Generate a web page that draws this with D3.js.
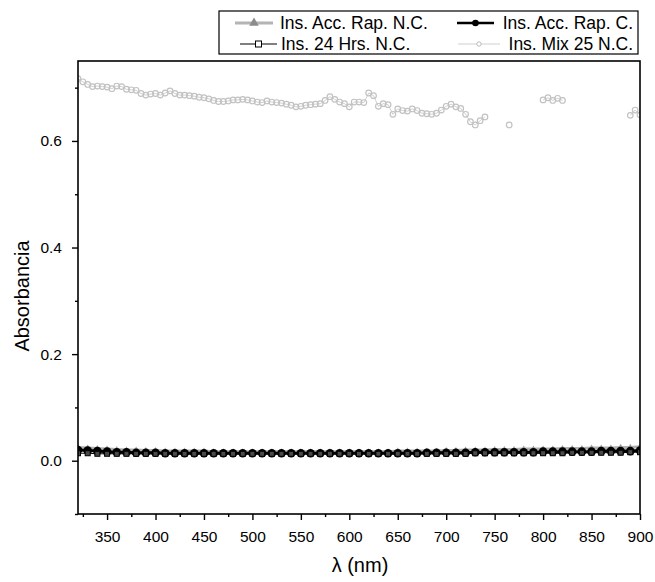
<!DOCTYPE html>
<html><head><meta charset="utf-8">
<script src="https://cdn.jsdelivr.net/npm/d3@7"></script>
<style>body{margin:0;background:#fff}svg{display:block;font-family:Arial,"Liberation Sans",sans-serif}</style>
</head><body><svg id="c" width="655" height="582"></svg>
<script>
// ---- data ----
const seriesNames = ["Ins. Acc. Rap. N.C.", "Ins. Acc. Rap. C.", "Ins. 24 Hrs. N.C.", "Ins. Mix 25 N.C."];
const xTicks = [350,400,450,500,550,600,650,700,750,800,850,900];
const yTicks = [0.0,0.2,0.4,0.6];
const yTickLabels = ["0.0","0.2","0.4","0.6"];
const xTitle = "λ (nm)";
const yTitle = "Absorbancia";

const wlLow = [320,330,340,350,360,370,380,390,400,410,420,430,440,450,460,470,480,490,500,510,520,530,540,550,560,570,580,590,600,610,620,630,640,650,660,670,680,690,700,710,720,730,740,750,760,770,780,790,800,810,820,830,840,850,860,870,880,890,900];
const accRapNC = [.025,.024,.023,.022,.021,.020,.020,.019,.019,.018,.018,.018,.018,.018,.017,.017,.017,.017,.017,.017,.017,.017,.017,.017,.017,.017,.017,.017,.017,.017,.017,.017,.017,.018,.018,.018,.018,.018,.019,.019,.020,.020,.020,.021,.021,.021,.022,.022,.022,.022,.023,.023,.023,.024,.024,.024,.025,.025,.026];
const accRapC = [.020,.019,.018,.017,.016,.016,.015,.015,.015,.014,.014,.014,.014,.014,.014,.014,.014,.014,.014,.014,.014,.014,.014,.014,.014,.014,.014,.014,.014,.014,.014,.014,.014,.014,.014,.014,.015,.015,.015,.015,.015,.016,.016,.016,.016,.016,.016,.016,.017,.017,.017,.017,.017,.017,.018,.018,.018,.018,.019];
const hrs24NC = [.014,.014,.013,.013,.013,.013,.013,.013,.013,.013,.013,.013,.013,.013,.013,.013,.013,.013,.013,.013,.013,.013,.013,.013,.013,.013,.013,.013,.013,.013,.013,.013,.013,.013,.013,.013,.013,.013,.013,.013,.013,.014,.014,.014,.014,.014,.014,.014,.014,.014,.014,.015,.015,.015,.015,.015,.015,.016,.016];

const wlMix = [320,325,330,335,340,345,350,355,360,365,370,375,380,385,390,395,400,405,410,415,420,425,430,435,440,445,450,455,460,465,470,475,480,485,490,495,500,505,510,515,520,525,530,535,540,545,550,555,560,565,570,575,580,585,590,595,600,605,610,615,620,625,630,635,640,645,650,655,660,665,670,675,680,685,690,695,700,705,710,715,720,725,730,735,740,765,800,805,810,815,820,890,895,900];
const mix25NC = [.717,.711,.706,.702,.703,.702,.701,.698,.703,.702,.697,.696,.695,.689,.686,.688,.689,.686,.690,.694,.689,.686,.686,.685,.684,.682,.681,.679,.676,.674,.674,.675,.677,.677,.678,.677,.675,.673,.672,.675,.673,.672,.671,.669,.667,.664,.665,.667,.668,.669,.670,.676,.683,.678,.673,.670,.664,.673,.673,.672,.690,.685,.665,.670,.668,.650,.660,.657,.656,.660,.657,.652,.651,.650,.652,.658,.665,.669,.664,.661,.650,.636,.630,.638,.645,.630,.677,.681,.676,.680,.676,.648,.658,.649];

// ---- chart ----
const FONT = "Arial, 'Liberation Sans', sans-serif";
const svg = d3.select("#c");
const L = 78, R = 640, T = 61, B = 514;
const x = d3.scaleLinear().domain([320, 900]).range([L, R]);
const y = d3.scaleLinear().domain([-0.1, 0.75]).range([B, T]);

svg.append("clipPath").attr("id","pc").append("rect").attr("x",L).attr("y",T).attr("width",R-L).attr("height",B-T);
const plot = svg.append("g").attr("clip-path","url(#pc)");

// mix series (light gray, open circles); break line where the wavelength step is larger than 5 nm
const mixPts = wlMix.map((w,i)=>({w, v: mix25NC[i], brk: i>0 && w - wlMix[i-1] > 5}));
const segs = []; let cur = [];
mixPts.forEach(p=>{ if(p.brk){ segs.push(cur); cur=[]; } cur.push(p); }); segs.push(cur);
const lineMix = d3.line().x(d=>x(d.w)).y(d=>y(d.v));
segs.forEach(s=>{ if(s.length>1) plot.append("path").attr("d",lineMix(s)).attr("fill","none").attr("stroke","#d0d0d0").attr("stroke-width",1); });
plot.selectAll(".mix").data(mixPts).join("circle").attr("cx",d=>x(d.w)).attr("cy",d=>y(d.v)).attr("r",2.8)
  .attr("fill","none").attr("stroke","#c2c2c2").attr("stroke-width",1.2);

const line = d3.line().x((d,i)=>x(wlLow[i])).y(d=>y(d));
// acc rap NC (gray thick, triangles)
plot.append("path").attr("d",line(accRapNC)).attr("fill","none").attr("stroke","#b0b0b0").attr("stroke-width",3);
const tri = d3.symbol().type(d3.symbolTriangle).size(16);
plot.selectAll(".tri").data(accRapNC).join("path").attr("d",tri).attr("transform",(d,i)=>`translate(${x(wlLow[i])},${y(d)})`).attr("fill","#999");
// acc rap C (black thick, circles)
plot.append("path").attr("d",line(accRapC)).attr("fill","none").attr("stroke","#000").attr("stroke-width",3);
plot.selectAll(".cir").data(accRapC).join("circle").attr("cx",(d,i)=>x(wlLow[i])).attr("cy",d=>y(d)).attr("r",4.3).attr("fill","#000");
// 24 hrs NC (thin black, open squares)
plot.append("path").attr("d",line(hrs24NC)).attr("fill","none").attr("stroke","#000").attr("stroke-width",1);
plot.selectAll(".sq").data(hrs24NC).join("rect").attr("x",(d,i)=>x(wlLow[i])-2.5).attr("y",d=>y(d)-2.5).attr("width",5).attr("height",5)
  .attr("fill","#4a4a4a").attr("stroke","#000").attr("stroke-width",1);

// frame
svg.append("rect").attr("x",L).attr("y",T).attr("width",R-L).attr("height",B-T).attr("fill","none").attr("stroke","#000").attr("stroke-width",1.6);

// axes
const xMinor = [325,375,425,475,525,575,625,675,725,775,825,875];
const xAx = svg.append("g").attr("transform",`translate(0,${B})`)
  .call(d3.axisBottom(x).tickValues(xTicks).tickFormat(d3.format("d")).tickSize(6).tickPadding(11));
xAx.select(".domain").remove();
xAx.selectAll(".tick line").attr("stroke-width",1.4);
xAx.selectAll("text").attr("font-size",15.5).attr("fill","#000").attr("font-family",FONT);
svg.append("g").attr("transform",`translate(0,${B})`).call(d3.axisBottom(x).tickValues(xMinor).tickFormat("").tickSize(3))
  .call(g=>{g.select(".domain").remove(); g.selectAll(".tick line").attr("stroke-width",1.4);});

const yAx = svg.append("g").attr("transform",`translate(${L},0)`)
  .call(d3.axisLeft(y).tickValues(yTicks).tickFormat((d,i)=>yTickLabels[i]).tickSize(6).tickPadding(10));
yAx.select(".domain").remove();
yAx.selectAll(".tick line").attr("stroke-width",1.4);
yAx.selectAll("text").attr("font-size",15.5).attr("fill","#000").attr("font-family",FONT);
svg.append("g").attr("transform",`translate(${L},0)`).call(d3.axisLeft(y).tickValues([-0.1,0.1,0.3,0.5,0.7]).tickFormat("").tickSize(3))
  .call(g=>{g.select(".domain").remove(); g.selectAll(".tick line").attr("stroke-width",1.4);});

svg.append("text").attr("x",360).attr("y",572).attr("text-anchor","middle").attr("font-size",20).attr("font-family",FONT).text(xTitle);
svg.append("text").attr("transform",`translate(29,296) rotate(-90)`).attr("text-anchor","middle").attr("font-size",20).attr("font-family",FONT).text(yTitle);

// legend
const lg = svg.append("g");
lg.append("rect").attr("x",219).attr("y",11).attr("width",419).attr("height",43).attr("fill","#fff").attr("stroke","#000").attr("stroke-width",1.2);
const rows = [
  {name: seriesNames[0], x1:235, x2:273, tx:280, ty:29, anchor:"start", col:"#b4b4b4", w:3, mk:"tri"},
  {name: seriesNames[1], x1:457, x2:494, tx:633, ty:29, anchor:"end", col:"#000", w:2.5, mk:"dot"},
  {name: seriesNames[2], x1:240, x2:277, tx:281, ty:50, anchor:"start", col:"#000", w:1, mk:"sq"},
  {name: seriesNames[3], x1:458, x2:500, tx:633, ty:50, anchor:"end", col:"#cfcfcf", w:1, mk:"oc"}
];
rows.forEach(r=>{
  const cy = r.ty - 6;
  lg.append("line").attr("x1",r.x1).attr("x2",r.x2).attr("y1",cy).attr("y2",cy).attr("stroke",r.col).attr("stroke-width",r.w);
  const cx = (r.x1+r.x2)/2;
  if(r.mk==="tri") lg.append("path").attr("d",d3.symbol().type(d3.symbolTriangle).size(40)()).attr("transform",`translate(${cx},${cy})`).attr("fill","#8c8c8c");
  if(r.mk==="dot") lg.append("circle").attr("cx",cx).attr("cy",cy).attr("r",3.3).attr("fill","#000");
  if(r.mk==="sq") lg.append("rect").attr("x",cx-3).attr("y",cy-3).attr("width",6).attr("height",6).attr("fill","#fff").attr("stroke","#000").attr("stroke-width",1);
  if(r.mk==="oc") lg.append("circle").attr("cx",cx).attr("cy",cy).attr("r",2.2).attr("fill","#fff").attr("stroke","#bbb").attr("stroke-width",1);
  lg.append("text").attr("x",r.tx).attr("y",r.ty).attr("text-anchor",r.anchor).attr("font-size",17.5).attr("font-family",FONT).text(r.name);
});
</script></body></html>
